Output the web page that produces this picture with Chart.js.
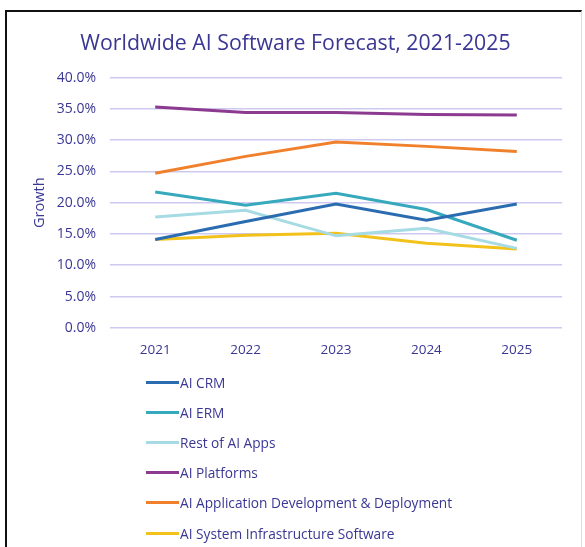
<!DOCTYPE html>
<html>
<head>
<meta charset="utf-8">
<script src="https://cdn.jsdelivr.net/npm/chart.js@4/dist/chart.umd.min.js"></script>
<style>
  body { margin: 0; background: #fff; font-family: "Open Sans", sans-serif; }
  #frame {
    position: absolute; left: 5px; top: 10px; width: 574px; height: 545px;
    border-top: 2px solid #111; border-left: 2px solid #111; border-right: 1px solid #ddd;
  }
  #wrap { position: absolute; left: 0; top: 0; width: 585px; height: 368px; }
  #legend { position: absolute; left: 146px; top: 367px; margin: 0; padding: 0; list-style: none; }
  #legend li { height: 30.2px; display: flex; align-items: center; font-size: 13.7px; color: #3a3794; }
  #legend span.sw { display: inline-block; width: 33px; height: 3px; margin-right: 1px; }
</style>
</head>
<body>
<div id="frame"></div>
<div id="wrap"><canvas id="line-graph"></canvas></div>
<ul id="legend"></ul>
<script>
// years on the x axis
const years = ['2021', '2022', '2023', '2024', '2025'];

// growth rates in percent
const aiCrm = [14.1, 17.0, 19.8, 17.2, 19.8];
const aiErm = [21.7, 19.6, 21.5, 18.9, 14.0];
const restOfApps = [17.7, 18.8, 14.7, 15.9, 12.7];
const aiPlatforms = [35.3, 34.4, 34.4, 34.1, 34.0];
const aiAppDev = [24.7, 27.4, 29.7, 29.0, 28.2];
const aiSysInfra = [14.1, 14.8, 15.1, 13.5, 12.6];

const seriesNames = ['AI CRM', 'AI ERM', 'Rest of AI Apps', 'AI Platforms',
    'AI Application Development & Deployment', 'AI System Infrastructure Software'];
const seriesColors = ['#2b6cb0', '#36a9bd', '#a6dbe4', '#8b3a8f', '#f0802c', '#f2c21a'];
const seriesData = [aiCrm, aiErm, restOfApps, aiPlatforms, aiAppDev, aiSysInfra];

const textColor = '#3a3794';

let chart = new Chart(document.getElementById('line-graph'), {
    type: 'line',
    data: {
        labels: years,
        datasets: seriesData.map((d, i) => ({
            label: seriesNames[i],
            data: d,
            borderColor: seriesColors[i],
            backgroundColor: seriesColors[i],
            borderWidth: 3,
            pointRadius: 0,
            tension: 0,
            fill: false,
        })),
    },
    options: {
        responsive: true,
        maintainAspectRatio: false,
        animation: false,
        layout: {
            padding: { left: 29, right: 23, top: 0, bottom: 4 },
        },
        plugins: {
            legend: { display: false },
            tooltip: { enabled: false },
            title: {
                display: true,
                text: 'Worldwide AI Software Forecast, 2021-2025',
                color: textColor,
                font: { family: 'Open Sans', size: 21.3, weight: 'normal' },
                padding: { top: 31, bottom: 21 },
            },
        },
        scales: {
            x: {
                offset: true,
                grid: { display: false },
                border: { display: false },
                ticks: {
                    color: textColor,
                    padding: 6,
                    font: { family: 'Open Sans', size: 13.5 },
                },
            },
            y: {
                min: 0,
                max: 40,
                border: { display: false },
                grid: { color: '#cdc9f0', lineWidth: 1.5, drawTicks: false },
                afterFit: (scale) => { scale.width = 81; },
                ticks: {
                    stepSize: 5,
                    color: textColor,
                    padding: 14,
                    font: { family: 'Open Sans', size: 14 },
                    callback: (v) => v.toFixed(1) + '%',
                },
                title: {
                    display: true,
                    text: 'Growth',
                    color: textColor,
                    font: { family: 'Open Sans', size: 14.5 },
                    padding: { top: 2, bottom: 0 },
                },
            },
        },
    },
});

// legend as a vertical list, built from the datasets
const legendEl = document.getElementById('legend');
chart.data.datasets.forEach((ds) => {
    const li = document.createElement('li');
    const sw = document.createElement('span');
    sw.className = 'sw';
    sw.style.background = ds.borderColor;
    li.appendChild(sw);
    li.appendChild(document.createTextNode(ds.label));
    legendEl.appendChild(li);
});
</script>
</body>
</html>
